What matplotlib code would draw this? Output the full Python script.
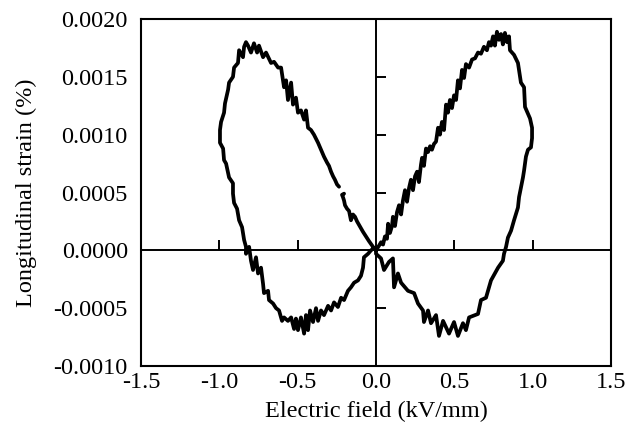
import numpy as np
import matplotlib
matplotlib.use("Agg")
import matplotlib.pyplot as plt
from matplotlib.markers import TICKUP, TICKRIGHT

plt.rcParams['font.family'] = ['Liberation Serif', 'DejaVu Serif']
plt.rcParams['axes.unicode_minus'] = False

# Electric field (kV/mm) and longitudinal strain (%), traced along the loop
field = [
    # right lobe, inner rising branch
    0.000, 0.019, 0.032, 0.045, 0.057, 0.070, 0.077, 0.089, 0.102, 0.108,
    0.121, 0.134, 0.147, 0.160, 0.172, 0.185, 0.198, 0.211, 0.223, 0.236,
    0.249, 0.262, 0.274, 0.287, 0.294, 0.306, 0.319, 0.332, 0.345, 0.357,
    0.370, 0.383, 0.396, 0.408, 0.421, 0.434, 0.447, 0.459, 0.472, 0.485,
    0.498, 0.511, 0.523, 0.536, 0.549, 0.562, 0.574, 0.594, 0.613, 0.632,
    0.651, 0.670, 0.689, 0.708, 0.721, 0.734, 0.747, 0.759, 0.772, 0.785,
    0.798, 0.810, 0.823, 0.836, 0.849,
    # right lobe, outer edge
    0.855, 0.881, 0.906, 0.925, 0.945, 0.951, 0.983, 0.996, 0.996, 0.989,
    0.970, 0.957, 0.945, 0.938, 0.913, 0.906, 0.881, 0.862, 0.842, 0.830,
    0.817,
    # right lobe, lower branch
    0.810, 0.779, 0.734, 0.702, 0.670, 0.651, 0.594, 0.574, 0.555, 0.523,
    0.498, 0.466, 0.428, 0.402, 0.383, 0.351, 0.332, 0.306, 0.300, 0.268,
    0.243, 0.204, 0.160, 0.140, 0.115, 0.108, 0.083, 0.051, 0.032, 0.000,
    0.000,
    # left lobe, inner rising branch (with a gap)
    -0.019, -0.045, -0.064, -0.083, -0.108, -0.121, -0.134, -0.147, -0.160,
    -0.172, -0.185, -0.198, -0.204, -0.211, -0.217, -0.204,
    np.nan,
    -0.236, -0.249, -0.262, -0.274, -0.287, -0.300, -0.313, -0.332, -0.351,
    -0.370, -0.396, -0.415, -0.434, -0.447, -0.459, -0.479, -0.498, -0.511,
    -0.530, -0.542, -0.562, -0.574, -0.587, -0.606, -0.625, -0.651, -0.670,
    -0.702, -0.721, -0.747, -0.759, -0.779, -0.798, -0.817, -0.830, -0.842,
    -0.849, -0.874, -0.881, -0.906, -0.913, -0.938, -0.944, -0.964, -0.970,
    -0.989, -0.996,
    # left lobe, outer edge
    -0.996, -0.976, -0.970, -0.957, -0.938, -0.913, -0.913, -0.906, -0.887,
    -0.874, -0.855, -0.849, -0.842, -0.830, -0.830, -0.810,
    # left lobe, lower branch
    -0.798, -0.785, -0.766, -0.753, -0.734, -0.721, -0.715, -0.689, -0.683,
    -0.657, -0.638, -0.619, -0.600, -0.587, -0.562, -0.542, -0.523, -0.511,
    -0.498, -0.479, -0.459, -0.447, -0.434, -0.421, -0.402, -0.383, -0.370,
    -0.351, -0.332, -0.306, -0.287, -0.268, -0.243, -0.223, -0.204, -0.179,
    -0.160, -0.140, -0.115, -0.096, -0.083, -0.077, -0.051, -0.032, -0.013,
    0.000,
]

strain = [
    # right lobe, inner rising branch
    0.00000, 0.00004, 0.00007, 0.00005, 0.00012, 0.00010, 0.00023, 0.00015, 0.00021, 0.00029,
    0.00021, 0.00033, 0.00039, 0.00031, 0.00043, 0.00052, 0.00042, 0.00054, 0.00061, 0.00052,
    0.00064, 0.00068, 0.00059, 0.00074, 0.00080, 0.00073, 0.00088, 0.00085, 0.00090, 0.00087,
    0.00092, 0.00094, 0.00106, 0.00100, 0.00111, 0.00104, 0.00126, 0.00119, 0.00130, 0.00123,
    0.00134, 0.00130, 0.00147, 0.00140, 0.00156, 0.00149, 0.00161, 0.00158, 0.00165, 0.00166,
    0.00171, 0.00170, 0.00176, 0.00173, 0.00180, 0.00177, 0.00185, 0.00177, 0.00189, 0.00182,
    0.00187, 0.00178, 0.00188, 0.00180, 0.00185,
    # right lobe, outer edge
    0.00173, 0.00169, 0.00162, 0.00145, 0.00141, 0.00124, 0.00114, 0.00106, 0.00097, 0.00089,
    0.00087, 0.00081, 0.00069, 0.00063, 0.00046, 0.00037, 0.00026, 0.00017, 0.00011, 0.00003,
    -0.00003,
    # right lobe, lower branch
    -0.00009, -0.00015, -0.00026, -0.00041, -0.00043, -0.00055, -0.00058, -0.00069, -0.00063, -0.00074,
    -0.00062, -0.00072, -0.00061, -0.00074, -0.00056, -0.00063, -0.00052, -0.00062, -0.00052, -0.00046,
    -0.00037, -0.00035, -0.00028, -0.00020, -0.00032, -0.00007, -0.00010, -0.00017, -0.00007, -0.00003,
    0.00000,
    # left lobe, inner rising branch (with a gap)
    0.00003, 0.00008, 0.00012, 0.00016, 0.00022, 0.00025, 0.00029, 0.00031, 0.00026,
    0.00034, 0.00036, 0.00039, 0.00043, 0.00046, 0.00048, 0.00049,
    np.nan,
    0.00055, 0.00057, 0.00061, 0.00064, 0.00068, 0.00073, 0.00076, 0.00081, 0.00087,
    0.00093, 0.00100, 0.00104, 0.00106, 0.00121, 0.00113, 0.00121, 0.00119, 0.00132,
    0.00126, 0.00145, 0.00130, 0.00147, 0.00141, 0.00158, 0.00158, 0.00163, 0.00162,
    0.00171, 0.00167, 0.00177, 0.00171, 0.00179, 0.00171, 0.00177, 0.00180, 0.00176,
    0.00167, 0.00173, 0.00162, 0.00158, 0.00150, 0.00145, 0.00139, 0.00127, 0.00119,
    0.00111, 0.00104,
    # left lobe, outer edge
    0.00093, 0.00088, 0.00078, 0.00075, 0.00063, 0.00058, 0.00049, 0.00041, 0.00036,
    0.00026, 0.00020, 0.00015, 0.00009, 0.00003, -0.00003, 0.00003,
    # left lobe, lower branch
    -0.00009, -0.00017, -0.00006, -0.00020, -0.00015, -0.00029, -0.00037, -0.00035, -0.00043,
    -0.00046, -0.00050, -0.00052, -0.00061, -0.00058, -0.00061, -0.00058, -0.00068, -0.00059,
    -0.00069, -0.00058, -0.00072, -0.00056, -0.00069, -0.00052, -0.00062, -0.00050, -0.00061,
    -0.00052, -0.00056, -0.00048, -0.00052, -0.00045, -0.00049, -0.00041, -0.00043, -0.00035,
    -0.00032, -0.00028, -0.00026, -0.00022, -0.00015, -0.00006, -0.00003, 0.00000, 0.00002,
    0.00000,
]

x_ticks = [-1.5, -1.0, -0.5, 0.0, 0.5, 1.0, 1.5]
y_ticks = [-0.0010, -0.0005, 0.0000, 0.0005, 0.0010, 0.0015, 0.0020]
x_inner_ticks = [-1.0, -0.5, 0.5, 1.0]
y_inner_ticks = [-0.0005, 0.0005, 0.0010, 0.0015]
y_outer_ticks = [-0.0010, 0.0000, 0.0020]

fig = plt.figure(figsize=(6.27, 4.34), dpi=100)
ax = fig.add_axes([0.2249, 0.1567, 0.7496, 0.7995])

ax.set_xlim(-1.5, 1.5)
ax.set_ylim(-0.001, 0.002)

# center axes
ax.axvline(0, color='black', lw=1.4, zorder=1)
ax.axhline(0, color='black', lw=1.4, zorder=1)
ax.plot(x_inner_ticks, [0] * len(x_inner_ticks), ls='none', marker=TICKUP,
        markersize=7.5, markeredgewidth=1.4, color='black', zorder=1)
ax.plot([0] * len(y_inner_ticks), y_inner_ticks, ls='none', marker=TICKRIGHT,
        markersize=7.5, markeredgewidth=1.4, color='black', zorder=1)

ax.plot(field, strain, color='black', lw=2.7, zorder=3,
        solid_joinstyle='round', solid_capstyle='round')

for s in ax.spines.values():
    s.set_linewidth(1.5)

FS = 17.5
ax.set_xticks(x_ticks)
ax.set_xticklabels([f"{v:.1f}" for v in x_ticks])
ax.set_yticks(y_ticks)
ax.set_yticklabels([f"{v:.4f}" for v in y_ticks])
ax.set_yticks(y_outer_ticks, minor=True)
ax.tick_params(axis='both', which='major', length=0, labelsize=FS)
ax.tick_params(axis='x', which='major', pad=4)
ax.tick_params(axis='y', which='major', pad=9.5)
ax.tick_params(axis='y', which='minor', length=3.5, width=1.5, direction='out')
ax.tick_params(axis='x', which='minor', length=0)

ax.set_xlabel("Electric field (kV/mm)", fontsize=FS, labelpad=6)
ax.set_ylabel("Longitudinal strain (%)", fontsize=FS, labelpad=12)

fig.savefig("out.png", dpi=100)
